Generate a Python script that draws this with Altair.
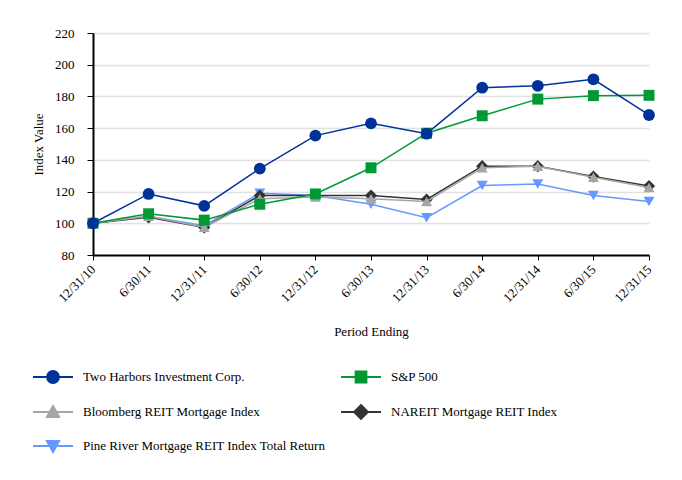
import altair as alt
import pandas as pd

dates = ["12/31/10", "6/30/11", "12/31/11", "6/30/12", "12/31/12", "6/30/13",
         "12/31/13", "6/30/14", "12/31/14", "6/30/15", "12/31/15"]

series_names = [
    "Two Harbors Investment Corp.",
    "S&P 500",
    "Bloomberg REIT Mortgage Index",
    "NAREIT Mortgage REIT Index",
    "Pine River Mortgage REIT Index Total Return",
]

two_harbors = [100, 118.5, 111, 134.5, 155.3, 163, 156.5, 185.5, 186.7, 190.8, 168.3]
sp500 = [100, 106, 102, 112, 118.5, 135, 156.8, 167.8, 178.3, 180.5, 180.7]
bloomberg = [100, 104.5, 97.5, 115.5, 116.5, 115.5, 113.8, 135, 136, 129, 122.5]
nareit = [100, 103.8, 97.4, 117.5, 117.5, 117.5, 115, 136, 136, 129.5, 123.5]
pine_river = [100, 104.5, 98.5, 119, 117.5, 112, 103.5, 123.8, 124.8, 117.5, 113.8]

y_ticks = [80, 100, 120, 140, 160, 180, 200, 220]

values_by_series = [two_harbors, sp500, bloomberg, nareit, pine_river]

colors = {
    series_names[0]: "#003399",
    series_names[1]: "#009933",
    series_names[2]: "#A6A6A6",
    series_names[3]: "#333333",
    series_names[4]: "#6699FF",
}
shapes = {
    series_names[0]: "circle",
    series_names[1]: "square",
    series_names[2]: "triangle-up",
    series_names[3]: "diamond",
    series_names[4]: "triangle-down",
}
sizes = {
    series_names[0]: 140,
    series_names[1]: 120,
    series_names[2]: 120,
    series_names[3]: 150,
    series_names[4]: 120,
}
legend_paths = {
    series_names[0]: "M-2,0L2,0M0.6,0A0.6,0.6,0,1,1,-0.6,0A0.6,0.6,0,1,1,0.6,0Z",
    series_names[1]: "M-2,0L2,0M-0.55,-0.55L0.55,-0.55L0.55,0.55L-0.55,0.55Z",
    series_names[2]: "M-2,0L2,0M0,-0.62L0.62,0.5L-0.62,0.5Z",
    series_names[3]: "M-2,0L2,0M0,-0.7L0.7,0L0,0.7L-0.7,0Z",
    series_names[4]: "M-2,0L2,0M0,0.62L0.62,-0.5L-0.62,-0.5Z",
}

rows = []
for name, vals in zip(series_names, values_by_series):
    for d, v in zip(dates, vals):
        rows.append({"date": d, "series": name, "value": v})
df = pd.DataFrame(rows)
legend_df = pd.DataFrame({"series": series_names})

FONT = "Liberation Serif, DejaVu Serif, serif"

x_enc = alt.X(
    "date:N",
    scale=alt.Scale(type="point", domain=dates, padding=0),
    axis=alt.Axis(
        title="Period Ending", labelAngle=315, labelAlign="right",
        labelBaseline="middle", labelPadding=7, tickSize=5, grid=False,
        titleY=76, titleBaseline="middle", domainWidth=2,
    ),
)
y_enc = alt.Y(
    "value:Q",
    scale=alt.Scale(domain=[80, 220], nice=False, zero=False),
    axis=alt.Axis(
        title="Index Value", values=y_ticks, tickSize=6, labelPadding=13,
        grid=True, titleX=-55, titleY=111, titleAngle=270,
        titleAlign="center", titleBaseline="middle", domainWidth=2,
    ),
)

draw_order = [series_names[4], series_names[3], series_names[2], series_names[1], series_names[0]]

layers = []
for name in draw_order:
    layers.append(
        alt.Chart(df)
        .transform_filter(alt.datum.series == name)
        .mark_line(
            color=colors[name], strokeWidth=1.5,
            point=alt.OverlayMarkDef(shape=shapes[name], size=sizes[name],
                                     filled=True, color=colors[name], opacity=1),
        )
        .encode(x=x_enc, y=y_enc)
    )


def legend_layer(names, lx, ly):
    leg = alt.Legend(
        title=None, orient="none", legendX=lx, legendY=ly, direction="vertical",
        symbolSize=400, symbolStrokeWidth=1.8, labelOffset=19, rowPadding=14,
        padding=0, labelLimit=500,
    )
    rng_c = [colors[n] for n in names]
    rng_s = [legend_paths[n] for n in names]
    return (
        alt.Chart(legend_df)
        .transform_filter(alt.FieldOneOfPredicate(field="series", oneOf=names))
        .mark_point(filled=True, clip=True, opacity=1, strokeWidth=1.8)
        .encode(
            x=alt.value(0),
            y=alt.value(-500),
            color=alt.Color("series:N", scale=alt.Scale(domain=names, range=rng_c), legend=leg),
            stroke=alt.Stroke("series:N", scale=alt.Scale(domain=names, range=rng_c), legend=leg),
            shape=alt.Shape("series:N", scale=alt.Scale(domain=names, range=rng_s), legend=leg),
        )
    )


col1 = [series_names[0], series_names[2], series_names[4]]
col2 = [series_names[1], series_names[3]]

chart = (
    alt.layer(*layers, legend_layer(col1, -51, 333), legend_layer(col2, 257, 333))
    .resolve_scale(color="independent", stroke="independent", shape="independent")
    .properties(
        width=556, height=222,
        padding={"left": 85, "top": 25, "right": 25, "bottom": 200},
        autosize=alt.AutoSizeParams(type="none"),
    )
    .configure_view(stroke=None)
    .configure_axis(
        labelFont=FONT, titleFont=FONT, labelFontSize=13, titleFontSize=13,
        titleFontWeight="normal", labelColor="black", titleColor="black",
        tickColor="black", domainColor="black", gridColor="#E2E2E2", gridWidth=1.5,
    )
    .configure_legend(labelFont=FONT, labelFontSize=13, labelColor="black")
)

chart.save("out.html", embed_options={"renderer": "svg", "actions": False})
